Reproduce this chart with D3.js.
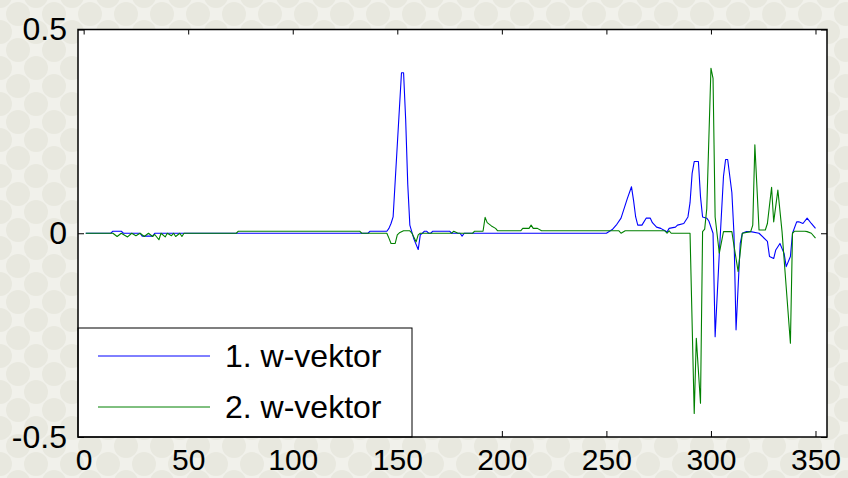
<!DOCTYPE html>
<html>
<head>
<meta charset="utf-8">
<script src="https://d3js.org/d3.v7.min.js"></script>
<style>
  body { margin: 0; background: #f2f2ec; }
  svg text { font-family: "Liberation Sans", Arial, sans-serif; }
</style>
</head>
<body>
<div id="chart"></div>
<script>
// 1. w-vektor (index, value)
const w1Index = [1, 13, 14, 18, 19, 27, 28, 33, 34, 136, 137, 145, 146, 147, 148, 152, 153, 154, 155, 156, 158, 160, 161, 162, 163, 164, 165, 166, 167, 175, 176, 180, 181, 182,
  250, 253, 255, 257, 260, 262, 263, 264, 265, 267, 269, 271, 272, 274, 276, 278, 279, 280, 283, 284, 287, 289, 290, 291, 292, 294, 295, 296, 298, 299, 301,
  302, 304, 306, 307, 308, 310, 311, 312, 314, 315, 317, 319, 323, 327, 328, 330, 331, 333, 335, 336, 338, 339, 341, 342, 344, 346, 348, 350];
const w1Value = [0, 0, 0.005, 0.005, 0, 0, -0.007, -0.007, 0, 0, 0.005, 0.005, 0.012, 0.024, 0.04, 0.394, 0.394, 0.28, 0.12, 0.02, -0.015, -0.04, -0.004, 0, 0.005, 0.005, 0, 0, 0.005, 0.005, 0, 0, -0.007, 0,
  0, 0.01, 0.022, 0.037, 0.085, 0.114, 0.08, 0.04, 0.02, 0.02, 0.037, 0.037, 0.026, 0.015, 0.012, 0.006, 0.003, 0.012, 0.015, 0.02, 0.024, 0.04, 0.075, 0.147, 0.176, 0.176, 0.09, 0.04, 0.037, 0.03, 0,
  -0.254, -0.049, 0.14, 0.181, 0.181, 0.1, 0, -0.237, -0.025, 0, 0.004, 0.004, 0, -0.02, -0.057, -0.062, -0.041, -0.025, -0.05, -0.082, -0.057, 0, 0.028, 0.028, 0.024, 0.037, 0.024, 0.012];

// 2. w-vektor (index, value)
const w2Index = [1, 14, 16, 18, 21, 23, 25, 27, 29, 31, 33, 34, 36, 37, 39, 40, 42, 43, 44, 46, 47, 48, 73, 74, 132, 133, 145, 146, 147, 149, 150, 151, 153, 156, 157, 159, 160, 161,
  176, 177, 179, 186, 187, 191, 192, 193, 195, 197, 198, 209, 210, 213, 214, 215, 217, 219, 256, 257, 259, 278, 279, 280, 281, 290,
  292, 293, 295, 296, 297, 298, 300, 301, 302, 304, 306, 310, 311, 313, 315, 319, 320, 321, 323, 326, 327, 329, 330, 332, 334, 338, 339, 340, 345, 346, 348, 350];
const w2Value = [0, 0, -0.008, 0, -0.009, 0, -0.006, 0, -0.008, 0, -0.008, -0.003, -0.016, 0, -0.009, 0, -0.006, 0, -0.008, 0, -0.008, 0, 0, 0.005, 0.005, 0, 0, -0.012, -0.025, -0.025, -0.004, 0.001, 0.006, 0.006, 0, -0.021, -0.004, 0,
  0, 0.005, 0, 0, 0.005, 0.005, 0.039, 0.026, 0.018, 0.012, 0.006, 0.006, 0.012, 0.012, 0.02, 0.012, 0.012, 0.006, 0.006, 0, 0.006, 0.006, 0, 0.006, 0, 0,
  -0.442, -0.258, -0.417, 0.004, 0.01, 0.06, 0.405, 0.38, 0.04, -0.049, 0.004, 0.004, -0.03, -0.094, 0, 0.004, 0.02, 0.217, 0.008, 0.008, 0.024, 0.113, 0.028, 0.106, 0.004, -0.27, 0, 0.005, 0.005, 0.004, 0, -0.012];

const xTicks = [0, 50, 100, 150, 200, 250, 300, 350];
const yTicks = [-0.5, 0, 0.5];
const yTickLabels = ["-0.5", "0", "0.5"];
const legendLabels = ["1. w-vektor", "2. w-vektor"];
const seriesColors = ["#0000ff", "#008000"];

const width = 848, height = 478;
const plotLeft = 78, plotRight = 827, plotTop = 29.5, plotBottom = 437;

const svg = d3.select("#chart")
  .append("svg")
  .attr("width", width)
  .attr("height", height);

// textured background: soft dots
const bg = svg.append("g");
bg.append("rect").attr("width", width).attr("height", height).attr("fill", "#f1f1eb");
const dots = [];
for (let r = 0; r * 18 < height + 20; r++) {
  for (let c = -1; c * 36 < width + 20; c++) {
    dots.push([c * 36 + (r % 2) * 18, r * 18 - 4]);
  }
}
bg.selectAll("circle")
  .data(dots)
  .join("circle")
  .attr("cx", d => d[0])
  .attr("cy", d => d[1])
  .attr("r", 12)
  .attr("fill", "#e8e8df");

const xScale = d3.scaleLinear().domain([-2.7, 355.5]).range([plotLeft, plotRight]);
const yScale = d3.scaleLinear().domain([-0.5, 0.5]).range([plotBottom, plotTop]);

svg.append("rect")
  .attr("x", plotLeft).attr("y", plotTop)
  .attr("width", plotRight - plotLeft).attr("height", plotBottom - plotTop)
  .attr("fill", "white");

// axes, ticks pointing inward like matlab
const styleAxis = (g, size) => {
  g.select(".domain").remove();
  g.selectAll("line").attr("stroke", "black");
  g.selectAll("text").attr("font-size", size).attr("fill", "black");
};

svg.append("g")
  .attr("transform", `translate(0,${plotBottom})`)
  .call(d3.axisBottom(xScale).tickValues(xTicks).tickSize(-6).tickPadding(12).tickFormat(d3.format("d")))
  .call(styleAxis, "30px");

svg.append("g")
  .attr("transform", `translate(0,${plotTop})`)
  .call(d3.axisTop(xScale).tickValues(xTicks).tickSize(-5).tickFormat(""))
  .call(styleAxis, "30px");

svg.append("g")
  .attr("transform", `translate(${plotLeft},0)`)
  .call(d3.axisLeft(yScale).tickValues(yTicks).tickSize(-6).tickPadding(11).tickFormat((_, i) => yTickLabels[i]))
  .call(styleAxis, "32px");

svg.append("g")
  .attr("transform", `translate(${plotRight},0)`)
  .call(d3.axisRight(yScale).tickValues(yTicks).tickSize(-6).tickFormat(""))
  .call(styleAxis, "32px");

// series lines
const line = d3.line()
  .x(d => xScale(d[0]))
  .y(d => yScale(d[1]));

const series = [
  d3.zip(w1Index, w1Value),
  d3.zip(w2Index, w2Value)
];

svg.append("g")
  .selectAll("path")
  .data(series)
  .join("path")
  .attr("d", line)
  .attr("fill", "none")
  .attr("stroke", (_, i) => seriesColors[i])
  .attr("stroke-width", 1.1)
  .attr("stroke-linejoin", "round");

// legend
const legend = svg.append("g");
legend.append("rect")
  .attr("x", plotLeft).attr("y", 328)
  .attr("width", 334).attr("height", plotBottom - 328)
  .attr("fill", "white")
  .attr("stroke", "black")
  .attr("stroke-width", 1);

legendLabels.forEach((label, i) => {
  const ly = 356 + i * 51;
  legend.append("line")
    .attr("x1", 98).attr("x2", 210)
    .attr("y1", ly).attr("y2", ly)
    .attr("stroke", seriesColors[i])
    .attr("stroke-width", 1);
  legend.append("text")
    .attr("x", 225)
    .attr("y", ly + 11)
    .attr("font-size", "32px")
    .attr("fill", "black")
    .text(label);
});

// frame
svg.append("rect")
  .attr("x", plotLeft).attr("y", plotTop)
  .attr("width", plotRight - plotLeft).attr("height", plotBottom - plotTop)
  .attr("fill", "none")
  .attr("stroke", "black")
  .attr("stroke-width", 1.5);
</script>
</body>
</html>
